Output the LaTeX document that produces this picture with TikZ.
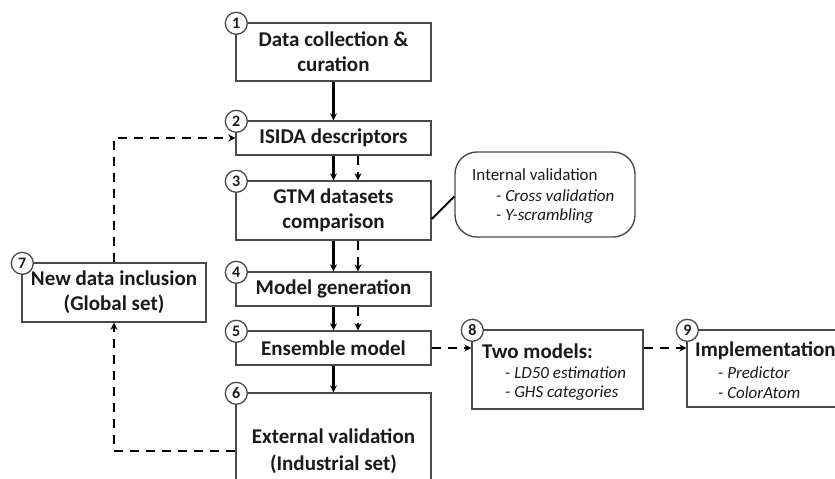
\documentclass[tikz,border=0pt]{standalone}
\usepackage{fontspec}
\setmainfont{Carlito}
\usetikzlibrary{arrows.meta,calc}
\definecolor{boxline}{HTML}{4A4A4A}
\definecolor{txt}{HTML}{1A1A1A}
\tikzset{
  stepbox/.style={draw=boxline, line width=1.4pt, fill=white, rectangle, inner sep=0pt,
     text=txt, font=\fontsize{21}{25}\selectfont\bfseries, align=center},
  numcirc/.style={draw=boxline, line width=1.3pt, fill=white, circle, minimum size=22pt,
     inner sep=0pt, text=txt, font=\fontsize{16}{16}\selectfont\bfseries},
  arr/.style={line width=2.2pt, -{Stealth[length=7pt,width=7pt]}},
  darr/.style={line width=2.2pt, dash pattern=on 9pt off 7pt, -{Stealth[length=7pt,width=7pt]}},
  sub/.style={anchor=west, inner sep=0pt, text=txt, font=\fontsize{17}{20}\selectfont\itshape},
  subhead/.style={anchor=west, inner sep=0pt, text=txt, font=\fontsize{21}{25}\selectfont\bfseries},
  bubtitle/.style={anchor=west, inner sep=0pt, text=txt, font=\fontsize{17}{20}\selectfont},
}
\begin{document}
\begin{tikzpicture}[x=1pt,y=-1pt]
\useasboundingbox (0,0) rectangle (835,479);
\clip (0,0) rectangle (835,479);
\fill[white] (0,0) rectangle (835,479);
% main column
\node[stepbox, minimum width=195pt, minimum height=58pt] (b1) at (333.5,52) {Data collection \&\\curation};
\node[stepbox, minimum width=195pt, minimum height=34pt] (b2) at (333.5,138) {ISIDA descriptors};
\node[stepbox, minimum width=195pt, minimum height=59pt] (b3) at (333.5,210.5) {GTM datasets\\comparison};
\node[stepbox, minimum width=195pt, minimum height=34pt] (b4) at (333.5,289) {Model generation};
\node[stepbox, minimum width=195pt, minimum height=34pt] (b5) at (333.5,348) {Ensemble model};
\node[stepbox, minimum width=195pt, minimum height=110pt, text height=0pt] (b6) at (333.5,448) {};
\node[text=txt, font=\fontsize{21}{27}\selectfont\bfseries, align=center, inner sep=0pt] (t6) at (333.5,451) {External validation\\(Industrial set)};
% left box
\node[stepbox, minimum width=184pt, minimum height=59pt] (b7) at (114,292.5) {New data inclusion\\(Global set)};
% right boxes
\node[stepbox, minimum width=171pt, minimum height=79pt] (b8) at (557.5,369.5) {};
\node[subhead] (t8a) at (482,351) {Two models:};
\node[sub] (t8b) at (505,373) {- LD50 estimation};
\node[sub] (t8c) at (505,393) {- GHS categories};
\node[stepbox, minimum width=180pt, minimum height=77pt] (b9) at (777,368.5) {};
\node[subhead] (t9a) at (695,351) {Implementation};
\node[sub] (t9b) at (718,373) {- Predictor};
\node[sub] (t9c) at (718,393) {- ColorAtom};
% bubble
\node[draw=boxline, line width=1.4pt, rounded corners=22pt, minimum width=180pt, minimum height=85pt, inner sep=0pt] (bub) at (545,194.5) {};
\node[bubtitle] (ta) at (472,175) {Internal validation};
\node[sub] (tb) at (496,196) {- Cross validation};
\node[sub] (tc) at (496,216) {- Y-scrambling};
% number circles
\foreach \b/\n in {b1/1,b2/2,b3/3,b4/4,b5/5,b6/6,b7/7,b8/8,b9/9}{
  \node[numcirc] (c\n) at ([xshift=1pt,yshift=-1pt]\b.north west) {\n};
}
% connectors
\draw[arr] (b1) -- (b2);
\draw[arr] (b2) -- (b3);
\draw[arr] (b3) -- (b4);
\draw[arr] (b4) -- (b5);
\draw[arr] (b5.south) -- (b6.north);
\draw[darr] ([xshift=24.5pt]b2.south) -- ([xshift=24.5pt]b3.north);
\draw[darr] ([xshift=24.5pt]b3.south) -- ([xshift=24.5pt]b4.north);
\draw[darr] ([xshift=24.5pt]b4.south) -- ([xshift=24.5pt]b5.north);
\draw[darr] (b5.east) -- (b8.west |- b5.east);
\draw[darr] (b8.east |- b5.east) -- (b9.west |- b5.east);
\draw[darr] ([yshift=-3pt]b6.west) -| (b7.south);
\draw[darr] (b7.north) |- (b2.west);
\draw[line width=2pt] ([yshift=-8.5pt]b3.east) -- ([yshift=-2pt]bub.west);
\end{tikzpicture}
\end{document}
